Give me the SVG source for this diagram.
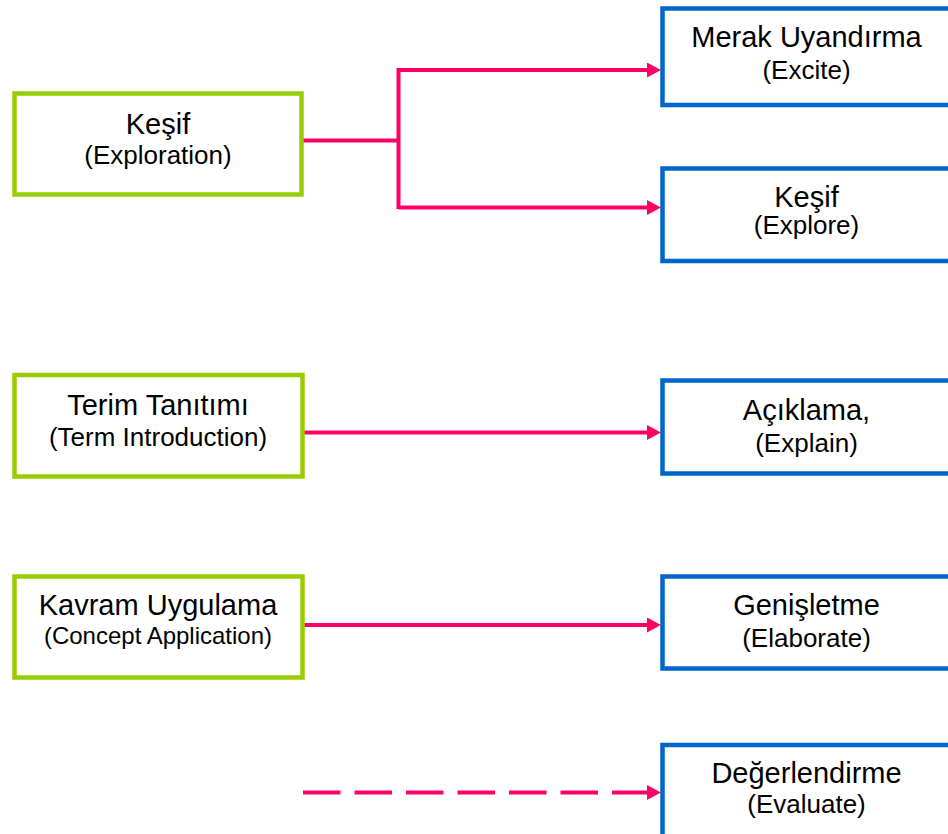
<svg xmlns="http://www.w3.org/2000/svg" width="948" height="834" viewBox="0 0 948 834">
<style>
.g{fill:#fff;stroke:#99CC00;stroke-width:4.5}
.b{fill:#fff;stroke:#0066CC;stroke-width:4.5}
.t{font-family:"Liberation Sans",Arial,sans-serif;font-size:29px;fill:#000;text-anchor:middle}
.s{font-family:"Liberation Sans",Arial,sans-serif;font-size:26px;fill:#000;text-anchor:middle}
.c{fill:none;stroke:#FF0066;stroke-width:4}
</style>
<defs>
<marker id="ah" viewBox="0 0 14 15" refX="0" refY="7.5" markerWidth="14" markerHeight="15" markerUnits="userSpaceOnUse" orient="auto">
<path d="M0,0 L14,7.5 L0,15 z" fill="#FF0066"/>
</marker>
</defs>
<rect width="948" height="834" fill="#fff"/>
<g id="connectors">
<path class="c" d="M303,140.5 H398.5"/>
<path class="c" d="M398.5,68 V209"/>
<path class="c" d="M398.5,70 H647" marker-end="url(#ah)"/>
<path class="c" d="M398.5,207.5 H647" marker-end="url(#ah)"/>
<path class="c" d="M303,432.5 H647" marker-end="url(#ah)"/>
<path class="c" d="M303,625 H647" marker-end="url(#ah)"/>
<path class="c" d="M303,792.5 H647" stroke-dasharray="37.5 14" marker-end="url(#ah)"/>
</g>
<g id="n-kesif-left">
<rect class="g" x="14.5" y="93.5" width="287" height="101"/>
<text class="t" x="158" y="133.5">Keşif</text>
<text class="s" x="158" y="163.5">(Exploration)</text>
</g>
<g id="n-terim">
<rect class="g" x="14.5" y="375" width="288" height="101.5"/>
<text class="t" x="158" y="415">Terim Tanıtımı</text>
<text class="s" x="158" y="446">(Term Introduction)</text>
</g>
<g id="n-kavram">
<rect class="g" x="14.5" y="576.5" width="288" height="101"/>
<text class="t" x="158" y="615">Kavram Uygulama</text>
<text class="s" x="158" y="643.5" style="font-size:24px">(Concept Application)</text>
</g>
<g id="n-merak">
<rect class="b" x="662.5" y="8.5" width="290" height="96.5"/>
<text class="t" x="806.5" y="46.5">Merak Uyandırma</text>
<text class="s" x="806.5" y="79">(Excite)</text>
</g>
<g id="n-kesif-right">
<rect class="b" x="662.5" y="168.5" width="290" height="92.5"/>
<text class="t" x="806.5" y="206.5">Keşif</text>
<text class="s" x="806.5" y="233.5">(Explore)</text>
</g>
<g id="n-aciklama">
<rect class="b" x="662.5" y="380.5" width="290" height="93"/>
<text class="t" x="806.5" y="420">Açıklama,</text>
<text class="s" x="806.5" y="451.5">(Explain)</text>
</g>
<g id="n-genisletme">
<rect class="b" x="662.5" y="576.5" width="290" height="92"/>
<text class="t" x="806.5" y="615">Genişletme</text>
<text class="s" x="806.5" y="647">(Elaborate)</text>
</g>
<g id="n-degerlendirme">
<rect class="b" x="662.5" y="745" width="290" height="120"/>
<text class="t" x="806.5" y="782.5">Değerlendirme</text>
<text class="s" x="806.5" y="813">(Evaluate)</text>
</g>
</svg>
